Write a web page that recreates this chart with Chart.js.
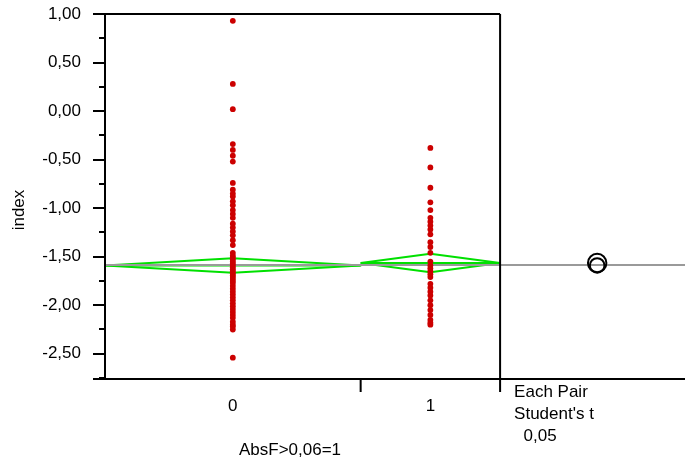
<!DOCTYPE html>
<html>
<head>
<meta charset="utf-8">
<script src="https://cdn.jsdelivr.net/npm/chart.js@4/dist/chart.umd.min.js"></script>
<style>
  html, body { margin: 0; padding: 0; background: #fff; }
  #wrap { width: 685px; height: 461px; position: relative; }
</style>
</head>
<body>
<div id="wrap"><canvas id="c" width="685" height="461"></canvas></div>
<script>
// ---- data ----
const categories = ['0', '1'];
const group0 = [0.93, 0.28, 0.02, -0.34, -0.40, -0.46, -0.52, -0.74, -0.81, -0.85, -0.88, -0.93, -0.97,
  -1.02, -1.06, -1.10, -1.16, -1.20, -1.24, -1.28, -1.33, -1.38, -1.46,
  -1.49, -1.51, -1.53, -1.55, -1.57, -1.59, -1.61, -1.63, -1.65, -1.67, -1.69, -1.71, -1.73, -1.75, -1.77,
  -1.80, -1.83, -1.86, -1.89, -1.92, -1.95, -1.98, -2.01, -2.04, -2.07, -2.10, -2.13,
  -2.17, -2.20, -2.22, -2.25, -2.54];
const group1 = [-0.38, -0.58, -0.79, -0.94, -1.02, -1.10, -1.14, -1.18, -1.22, -1.27, -1.35, -1.40, -1.46,
  -1.55, -1.59, -1.62, -1.65, -1.68, -1.71, -1.78, -1.82, -1.86, -1.90, -1.95, -2.00, -2.05, -2.10,
  -2.15, -2.18, -2.20];
const groupMeans = [-1.59, -1.565];
const ciLower = [-1.665, -1.66];
const ciUpper = [-1.515, -1.47];
const grandMean = -1.585;
const yTickValues = [1.0, 0.5, 0.0, -0.5, -1.0, -1.5, -2.0, -2.5];
const yMinorValues = [0.75, 0.25, -0.25, -0.75, -1.25, -1.75, -2.25, -2.75];
const yTitle = 'index';
const xTitle = 'AbsF>0,06=1';
const panelText = ['Each Pair', "Student's t", '  0,05'];

// ---- layout (not data) ----
const groups = [group0, group1];
const counts = groups.map(g => g.length);          // JMP: widths proportional to n
const starts = [0, counts[0]];
const ends = [counts[0], counts[0] + counts[1]];
const centers = starts.map((s, i) => (s + ends[i]) / 2);
const mainEnd = ends[1];
const panelFrac = 0.468;
const xMax = mainEnd * (1 + panelFrac);
const circleX = mainEnd + (xMax - mainEnd) * 0.525;
const FONT = '17px "Liberation Sans", Arial, Helvetica, sans-serif';
const RED = '#cc0000';
const GREEN = '#00e000';

const datasets = [];
groups.forEach((g, i) => {
  datasets.push({
    label: 'pts' + i,
    data: g.map(v => ({ x: centers[i], y: v })),
    backgroundColor: RED, borderColor: RED, borderWidth: 0,
    pointRadius: 2.9, order: 0
  });
});
groups.forEach((g, i) => {
  datasets.push({
    label: 'diamond' + i,
    data: [
      { x: starts[i], y: groupMeans[i] }, { x: centers[i], y: ciUpper[i] },
      { x: ends[i], y: groupMeans[i] }, { x: centers[i], y: ciLower[i] },
      { x: starts[i], y: groupMeans[i] }
    ],
    showLine: true, borderColor: GREEN, borderWidth: 2, pointRadius: 0, tension: 0,
    borderJoinStyle: 'round',
    backgroundColor: 'transparent', fill: false, order: 3
  });
  datasets.push({
    label: 'mean' + i,
    data: [{ x: starts[i], y: groupMeans[i] }, { x: ends[i], y: groupMeans[i] }],
    showLine: true, borderColor: GREEN, borderWidth: 2, pointRadius: 0,
    backgroundColor: 'transparent', order: 3
  });
});
datasets.push({
  label: 'grand',
  data: [{ x: 0, y: grandMean }, { x: xMax, y: grandMean }],
  showLine: true, borderColor: '#9a9a9a', borderWidth: 2, pointRadius: 0,
  backgroundColor: 'transparent', order: 2
});
datasets.push({
  label: 'circles',
  data: groupMeans.map(m => ({ x: circleX, y: m })),
  backgroundColor: 'transparent', borderColor: '#000', borderWidth: 2,
  pointRadius: ctx => {
    const ys = ctx.chart.scales.y;
    const i = ctx.dataIndex;
    const half = (ciUpper[i] - ciLower[i]) / 2;
    return Math.abs(ys.getPixelForValue(groupMeans[i]) - ys.getPixelForValue(groupMeans[i] + half));
  },
  order: 0
});

const fmt = v => v.toFixed(2).replace('.', ',').replace('-0,00', '0,00');

const axesPlugin = {
  id: 'jmpAxes',
  afterDraw(chart) {
    const ctx = chart.ctx;
    const a = chart.chartArea;
    const xs = chart.scales.x, ys = chart.scales.y;
    ctx.save();
    ctx.strokeStyle = '#000';
    ctx.fillStyle = '#000';
    ctx.lineWidth = 2;
    const xSplit = xs.getPixelForValue(mainEnd);
    const xBound = xs.getPixelForValue(ends[0]);
    ctx.beginPath();
    ctx.moveTo(a.left, a.top); ctx.lineTo(a.left, a.bottom);
    ctx.moveTo(a.left, a.top); ctx.lineTo(xSplit, a.top);
    ctx.moveTo(a.left - 12, a.bottom); ctx.lineTo(a.right, a.bottom);
    ctx.moveTo(xBound, a.bottom); ctx.lineTo(xBound, a.bottom + 13);
    ctx.moveTo(xSplit, a.top); ctx.lineTo(xSplit, a.bottom + 13);
    ctx.stroke();
    ctx.beginPath();
    yTickValues.forEach(v => {
      const y = Math.round(ys.getPixelForValue(v));
      ctx.moveTo(a.left - 12, y); ctx.lineTo(a.left, y);
    });
    yMinorValues.forEach(v => {
      const y = Math.round(ys.getPixelForValue(v));
      ctx.moveTo(a.left - 6, y); ctx.lineTo(a.left, y);
    });
    ctx.stroke();
    ctx.font = FONT;
    ctx.textAlign = 'right';
    ctx.textBaseline = 'middle';
    yTickValues.forEach(v => {
      ctx.fillText(fmt(v), a.left - 24, ys.getPixelForValue(v));
    });
    ctx.textAlign = 'center';
    categories.forEach((c, i) => {
      ctx.fillText(c, xs.getPixelForValue(centers[i]), a.bottom + 27);
    });
    ctx.fillText(xTitle, 290, a.bottom + 71);
    ctx.textAlign = 'left';
    panelText.forEach((t, i) => {
      ctx.fillText(t, xSplit + 14, a.bottom + 13 + i * 22);
    });
    ctx.save();
    ctx.translate(19, 210);
    ctx.rotate(-Math.PI / 2);
    ctx.textAlign = 'center';
    ctx.fillText(yTitle, 0, 0);
    ctx.restore();
    ctx.restore();
  }
};

new Chart(document.getElementById('c'), {
  type: 'scatter',
  data: { datasets },
  options: {
    responsive: false,
    animation: false,
    events: [],
    layout: { autoPadding: false, padding: { left: 105, top: 14, right: 0, bottom: 82 } },
    plugins: { legend: { display: false }, tooltip: { enabled: false } },
    scales: {
      x: { type: 'linear', min: 0, max: xMax, display: false },
      y: { type: 'linear', min: -2.76, max: 1.0, display: false }
    }
  },
  plugins: [axesPlugin]
});
</script>
</body>
</html>
